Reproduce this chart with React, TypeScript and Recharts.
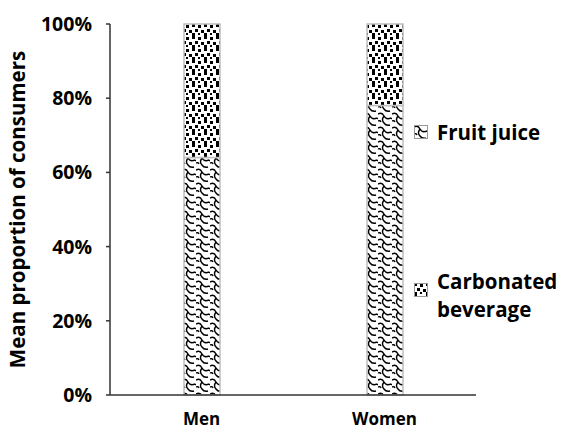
import React from "react";
import {
  BarChart,
  Bar,
  XAxis,
  YAxis,
  Label,
} from "recharts";

const categories = ["Men", "Women"];
const fruitJuice = [64, 78];
const carbonated = [36, 22];
const yTicks = [0, 20, 40, 60, 80, 100];

const data = categories.map((name, i) => ({
  name,
  fruit: fruitJuice[i],
  carb: carbonated[i],
}));

const FONT = "'Open Sans', 'Noto Sans', sans-serif";

// patterns live in a zero-size svg so both chart and legend can use them
const Patterns = () => (
  <svg width={0} height={0} style={{ position: "absolute" }}>
    <defs>
      <pattern id="wave" width={14} height={14} patternUnits="userSpaceOnUse">
        <rect width={14} height={14} fill="#fff" />
        <path
          d="M0 2 Q4 0 6 4 Q8 8 13 6 M6 4 Q3 8 6 11 Q8 14 12 13 M13 6 L14 7 M0 9 Q2 8 3 10"
          fill="none"
          stroke="#000"
          strokeWidth={1.4}
        />
      </pattern>
      <pattern id="dots" width={12} height={12} patternUnits="userSpaceOnUse">
        <rect width={12} height={12} fill="#fff" />
        <rect x={0} y={0} width={3} height={3} fill="#000" />
        <rect x={6} y={1} width={3} height={3} fill="#000" />
        <rect x={3} y={5} width={3} height={3} fill="#000" />
        <rect x={9} y={6} width={3} height={3} fill="#000" />
        <rect x={0} y={9} width={3} height={3} fill="#000" />
        <rect x={6} y={9} width={2} height={2} fill="#000" />
      </pattern>
    </defs>
  </svg>
);

const Swatch = ({ fill }: { fill: string }) => (
  <svg width={14} height={14} style={{ marginRight: 9, flexShrink: 0 }}>
    <rect x={0.5} y={0.5} width={13} height={13} fill={fill} stroke="#999" />
  </svg>
);

const legendText: React.CSSProperties = {
  fontFamily: FONT,
  fontWeight: 700,
  fontSize: 20.5,
  lineHeight: "28px",
  color: "#000",
};

export default function App() {
  return (
    <div style={{ position: "absolute", left: 0, top: 0, width: 566, height: 436, background: "#fff" }}>
      <Patterns />
      <BarChart
        width={566}
        height={436}
        data={data}
        margin={{ top: 24, right: 90, bottom: 0, left: 0 }}
        barSize={36}
      >
        <XAxis
          dataKey="name"
          height={41}
          tickLine={false}
          tickMargin={12}
          axisLine={{ stroke: "#333", strokeWidth: 1.5 }}
          tick={{ fill: "#000", fontFamily: FONT, fontWeight: 700, fontSize: 17 }}
        />
        <YAxis
          width={110}
          domain={[0, 100]}
          ticks={yTicks}
          interval={0}
          tickFormatter={(v) => `${v}%`}
          tickSize={4}
          tickMargin={14}
          axisLine={{ stroke: "#333", strokeWidth: 1.5 }}
          tickLine={{ stroke: "#333", strokeWidth: 1.5 }}
          tick={{ fill: "#000", fontFamily: FONT, fontWeight: 700, fontSize: 19.5 }}
        >
          <Label
            value="Mean proportion of consumers"
            angle={-90}
            position="insideLeft"
            offset={18}
            style={{ textAnchor: "middle", fill: "#000", fontFamily: FONT, fontWeight: 700, fontSize: 20.5 }}
          />
        </YAxis>
        <Bar dataKey="fruit" stackId="a" fill="url(#wave)" stroke="#bfbfbf" strokeWidth={1.5} isAnimationActive={false} />
        <Bar dataKey="carb" stackId="a" fill="url(#dots)" stroke="#bfbfbf" strokeWidth={1.5} isAnimationActive={false} />
      </BarChart>
      <div style={{ position: "absolute", left: 414, top: 118, display: "flex", alignItems: "center", ...legendText }}>
        <Swatch fill="url(#wave)" />
        <span>Fruit juice</span>
      </div>
      <div style={{ position: "absolute", left: 414, top: 267, display: "flex", alignItems: "flex-start", ...legendText }}>
        <div style={{ marginTop: 8 }}>
          <Swatch fill="url(#dots)" />
        </div>
        <span>
          Carbonated
          <br />
          beverage
        </span>
      </div>
    </div>
  );
}
